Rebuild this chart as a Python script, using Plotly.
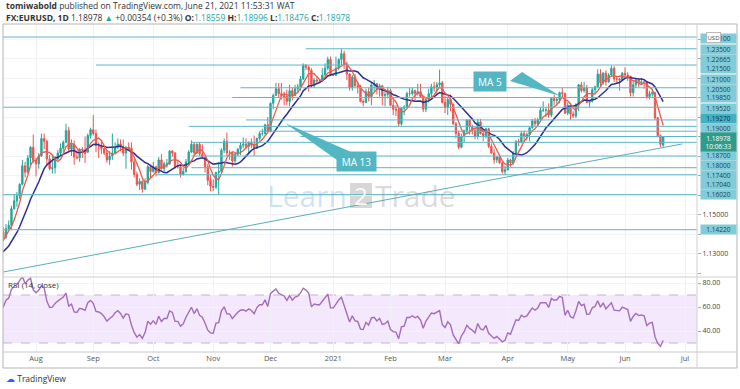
import numpy as np
import pandas as pd
import plotly.graph_objects as go

# ---------------- DATA ----------------
first_day = "2020-06-29"
last_day = "2021-06-21"
axis_last_day = "2021-07-09"

opens = [
    1.1220, 1.1240, 1.1233, 1.1250, 1.1240,  # Jun29-Jul3
    1.1245, 1.1310, 1.1275, 1.1330, 1.1290, 1.1300, 1.1345, 1.1400, 1.1410, 1.1383, 1.1428, 1.1445, 1.1530, 1.1570, 1.1595, 1.1655, 1.1750, 1.1717, 1.1790, 1.1845,  # Jul
    1.1778, 1.1760, 1.1800, 1.1890, 1.1875, 1.1785, 1.1735, 1.1740, 1.1785, 1.1815, 1.1840, 1.1870, 1.1930, 1.1835, 1.1860, 1.1795, 1.1790, 1.1835, 1.1830, 1.1820, 1.1905,  # Aug
    1.1935, 1.1915, 1.1855, 1.1850, 1.1838, 1.1815, 1.1780, 1.1800, 1.1815, 1.1845, 1.1862, 1.1845, 1.1815, 1.1845, 1.1840, 1.1770, 1.1705, 1.1655, 1.1670, 1.1630, 1.1665, 1.1745,  # Sep
    1.1720, 1.1745, 1.1715, 1.1780, 1.1735, 1.1760, 1.1760, 1.1825, 1.1815, 1.1745, 1.1745, 1.1705, 1.1720, 1.1770, 1.1820, 1.1860, 1.1815, 1.1860, 1.1810, 1.1795, 1.1745, 1.1675,  # Oct
    1.1645, 1.1640, 1.1715, 1.1720, 1.1830, 1.1875, 1.1815, 1.1815, 1.1775, 1.1810, 1.1835, 1.1855, 1.1860, 1.1850, 1.1870, 1.1860, 1.1840, 1.1890, 1.1915, 1.1915, 1.1960,  # Nov
    1.1925, 1.2070, 1.2110, 1.2145, 1.2120, 1.2110, 1.2105, 1.2080, 1.2135, 1.2110, 1.2145, 1.2155, 1.2195, 1.2265, 1.2255, 1.2240, 1.2160, 1.2190, 1.2185, 1.2185, 1.2215, 1.2250, 1.2295,  # Dec
    1.2215, 1.2215, 1.2250, 1.2295, 1.2325, 1.2270, 1.2220, 1.2150, 1.2205, 1.2160, 1.2155, 1.2080, 1.2075, 1.2130, 1.2105, 1.2165, 1.2170, 1.2140, 1.2160, 1.2110, 1.2115,  # Jan
    1.2135, 1.2060, 1.2040, 1.2035, 1.1965, 1.2045, 1.2050, 1.2120, 1.2120, 1.2135, 1.2120, 1.2130, 1.2105, 1.2040, 1.2090, 1.2120, 1.2155, 1.2150, 1.2165, 1.2175,  # Feb
    1.2075, 1.2050, 1.2090, 1.2065, 1.1965, 1.1915, 1.1845, 1.1900, 1.1930, 1.1985, 1.1950, 1.1930, 1.1900, 1.1975, 1.1915, 1.1905, 1.1940, 1.1850, 1.1815, 1.1780, 1.1795, 1.1765, 1.1720,  # Mar
    1.1730, 1.1780, 1.1765, 1.1815, 1.1875, 1.1870, 1.1915, 1.1900, 1.1910, 1.1945, 1.1980, 1.1965, 1.1985, 1.2035, 1.2035, 1.2035, 1.2010, 1.2095, 1.2085, 1.2090, 1.2125, 1.2120,  # Apr
    1.2020, 1.2060, 1.2015, 1.2005, 1.2065, 1.2165, 1.2135, 1.2150, 1.2075, 1.2080, 1.2140, 1.2155, 1.2220, 1.2175, 1.2225, 1.2180, 1.2215, 1.2250, 1.2195, 1.2195, 1.2190,  # May
    1.2225, 1.2215, 1.2210, 1.2125, 1.2165, 1.2190, 1.2175, 1.2180, 1.2175, 1.2105, 1.2120, 1.2125, 1.1995, 1.1905, 1.18559,  # Jun
]
highs = [
    1.1290, 1.1255, 1.1270, 1.1300, 1.1265,
    1.1345, 1.1330, 1.1345, 1.1370, 1.1315, 1.1375, 1.1410, 1.1450, 1.1435, 1.1450, 1.1470, 1.1545, 1.1600, 1.1615, 1.1660, 1.1780, 1.1770, 1.1805, 1.1850, 1.1910,
    1.1790, 1.1815, 1.1915, 1.1915, 1.1885, 1.1805, 1.1805, 1.1800, 1.1830, 1.1865, 1.1880, 1.1965, 1.1950, 1.1885, 1.1880, 1.1830, 1.1840, 1.1845, 1.1900, 1.1915, 1.1945,
    1.2011, 1.1935, 1.1870, 1.1880, 1.1845, 1.1830, 1.1825, 1.1915, 1.1870, 1.1890, 1.1885, 1.1885, 1.1850, 1.1870, 1.1870, 1.1785, 1.1720, 1.1685, 1.1675, 1.1685, 1.1755, 1.1755,
    1.1770, 1.1750, 1.1795, 1.1810, 1.1770, 1.1785, 1.1830, 1.1830, 1.1820, 1.1775, 1.1755, 1.1740, 1.1785, 1.1830, 1.1880, 1.1870, 1.1865, 1.1870, 1.1860, 1.1800, 1.1760, 1.1705,
    1.1680, 1.1720, 1.1770, 1.1840, 1.1890, 1.1920, 1.1830, 1.1820, 1.1815, 1.1840, 1.1870, 1.1895, 1.1890, 1.1875, 1.1890, 1.1905, 1.1895, 1.1925, 1.1940, 1.1965, 1.2000,
    1.2075, 1.2120, 1.2175, 1.2175, 1.2175, 1.2130, 1.2140, 1.2165, 1.2150, 1.2165, 1.2170, 1.2210, 1.2275, 1.2272, 1.2265, 1.2250, 1.2200, 1.2210, 1.2190, 1.2250, 1.2275, 1.2310, 1.2310,
    1.2220, 1.2310, 1.2300, 1.2349, 1.2340, 1.2285, 1.2225, 1.2215, 1.2220, 1.2180, 1.2165, 1.2090, 1.2145, 1.2150, 1.2175, 1.2190, 1.2175, 1.2170, 1.2165, 1.2140, 1.2155,
    1.2145, 1.2085, 1.2060, 1.2045, 1.2050, 1.2060, 1.2130, 1.2150, 1.2150, 1.2140, 1.2170, 1.2170, 1.2110, 1.2095, 1.2145, 1.2170, 1.2180, 1.2180, 1.2243, 1.2185,
    1.2110, 1.2100, 1.2115, 1.2070, 1.1975, 1.1930, 1.1915, 1.1935, 1.1990, 1.1990, 1.1960, 1.1950, 1.1990, 1.1990, 1.1935, 1.1945, 1.1945, 1.1865, 1.1835, 1.1800, 1.1800, 1.1770, 1.1750,
    1.1790, 1.1785, 1.1825, 1.1880, 1.1890, 1.1925, 1.1930, 1.1920, 1.1950, 1.1990, 1.1995, 1.1995, 1.2050, 1.2080, 1.2050, 1.2070, 1.2100, 1.2115, 1.2100, 1.2130, 1.2150, 1.2125,
    1.2075, 1.2065, 1.2030, 1.2070, 1.2170, 1.2180, 1.2180, 1.2165, 1.2085, 1.2150, 1.2160, 1.2245, 1.2245, 1.2230, 1.2240, 1.2225, 1.2265, 1.2260, 1.2210, 1.2200, 1.2230,
    1.2255, 1.2230, 1.2210, 1.2185, 1.2195, 1.2195, 1.2200, 1.2185, 1.2185, 1.2135, 1.2145, 1.2130, 1.2000, 1.1910, 1.18996,
]
lows = [
    1.1215, 1.1190, 1.1210, 1.1230, 1.1225,
    1.1240, 1.1265, 1.1260, 1.1280, 1.1255, 1.1290, 1.1325, 1.1395, 1.1370, 1.1375, 1.1420, 1.1425, 1.1525, 1.1540, 1.1580, 1.1650, 1.1690, 1.1710, 1.1755, 1.1765,
    1.1695, 1.1735, 1.1795, 1.1835, 1.1755, 1.1725, 1.1710, 1.1710, 1.1780, 1.1800, 1.1820, 1.1865, 1.1825, 1.1800, 1.1755, 1.1785, 1.1770, 1.1790, 1.1765, 1.1815, 1.1890,
    1.1905, 1.1820, 1.1790, 1.1810, 1.1805, 1.1765, 1.1755, 1.1780, 1.1815, 1.1835, 1.1825, 1.1800, 1.1735, 1.1825, 1.1730, 1.1690, 1.1645, 1.1625, 1.1612, 1.1625, 1.1655, 1.1685,
    1.1715, 1.1695, 1.1710, 1.1730, 1.1720, 1.1740, 1.1755, 1.1795, 1.1735, 1.1735, 1.1690, 1.1700, 1.1715, 1.1760, 1.1815, 1.1800, 1.1810, 1.1800, 1.1790, 1.1715, 1.1650, 1.1620,
    1.1620, 1.1630, 1.1603, 1.1715, 1.1815, 1.1800, 1.1780, 1.1745, 1.1765, 1.1800, 1.1805, 1.1840, 1.1835, 1.1810, 1.1840, 1.1800, 1.1835, 1.1880, 1.1905, 1.1910, 1.1925,
    1.1925, 1.2040, 1.2110, 1.2100, 1.2090, 1.2060, 1.2060, 1.2055, 1.2085, 1.2110, 1.2125, 1.2135, 1.2190, 1.2240, 1.2130, 1.2150, 1.2150, 1.2170, 1.2180, 1.2180, 1.2210, 1.2240, 1.2210,
    1.2210, 1.2210, 1.2240, 1.2265, 1.2245, 1.2190, 1.2135, 1.2135, 1.2155, 1.2120, 1.2075, 1.2055, 1.2070, 1.2080, 1.2060, 1.2130, 1.2115, 1.2105, 1.2060, 1.2055, 1.2095,
    1.2055, 1.2010, 1.2005, 1.1952, 1.1955, 1.2010, 1.2045, 1.2105, 1.2110, 1.2085, 1.2110, 1.2100, 1.2025, 1.2025, 1.2075, 1.2090, 1.2130, 1.2110, 1.2155, 1.2070,
    1.2020, 1.2010, 1.2030, 1.1960, 1.1890, 1.1835, 1.1840, 1.1870, 1.1915, 1.1910, 1.1910, 1.1885, 1.1885, 1.1910, 1.1875, 1.1890, 1.1840, 1.1810, 1.1760, 1.1765, 1.1760, 1.1710, 1.1704,
    1.1725, 1.1745, 1.1755, 1.1805, 1.1850, 1.1865, 1.1870, 1.1880, 1.1875, 1.1940, 1.1955, 1.1950, 1.1975, 1.2025, 1.2000, 1.1995, 1.2000, 1.2060, 1.2065, 1.2070, 1.2095, 1.2015,
    1.2010, 1.1985, 1.1995, 1.1995, 1.2030, 1.2125, 1.2125, 1.2070, 1.2050, 1.2075, 1.2115, 1.2150, 1.2155, 1.2165, 1.2160, 1.2175, 1.2210, 1.2180, 1.2175, 1.2135, 1.2185,
    1.2200, 1.2185, 1.2105, 1.2105, 1.2150, 1.2155, 1.2165, 1.2145, 1.2095, 1.2090, 1.2105, 1.1985, 1.1895, 1.1847, 1.18476,
]
closes = [
    1.1240, 1.1233, 1.1250, 1.1240, 1.1245,
    1.1310, 1.1275, 1.1330, 1.1290, 1.1300, 1.1345, 1.1400, 1.1410, 1.1383, 1.1428, 1.1445, 1.1530, 1.1570, 1.1595, 1.1655, 1.1750, 1.1717, 1.1790, 1.1845, 1.1778,
    1.1760, 1.1800, 1.1890, 1.1875, 1.1785, 1.1735, 1.1740, 1.1785, 1.1815, 1.1840, 1.1870, 1.1930, 1.1835, 1.1860, 1.1795, 1.1790, 1.1835, 1.1830, 1.1820, 1.1905, 1.1935,
    1.1915, 1.1855, 1.1850, 1.1838, 1.1815, 1.1780, 1.1800, 1.1815, 1.1845, 1.1862, 1.1845, 1.1815, 1.1845, 1.1840, 1.1770, 1.1705, 1.1655, 1.1670, 1.1630, 1.1665, 1.1745, 1.1720,
    1.1745, 1.1715, 1.1780, 1.1735, 1.1760, 1.1760, 1.1825, 1.1815, 1.1745, 1.1745, 1.1705, 1.1720, 1.1770, 1.1820, 1.1860, 1.1815, 1.1860, 1.1810, 1.1795, 1.1745, 1.1675, 1.1645,
    1.1640, 1.1715, 1.1720, 1.1830, 1.1875, 1.1815, 1.1815, 1.1775, 1.1810, 1.1835, 1.1855, 1.1860, 1.1850, 1.1870, 1.1860, 1.1840, 1.1890, 1.1915, 1.1915, 1.1960, 1.1925,
    1.2070, 1.2110, 1.2145, 1.2120, 1.2110, 1.2105, 1.2080, 1.2135, 1.2110, 1.2145, 1.2155, 1.2195, 1.2265, 1.2255, 1.2240, 1.2160, 1.2190, 1.2185, 1.2185, 1.2215, 1.2250, 1.2295, 1.2215,
    1.2215, 1.2250, 1.2295, 1.2325, 1.2270, 1.2220, 1.2150, 1.2205, 1.2160, 1.2155, 1.2080, 1.2075, 1.2130, 1.2105, 1.2165, 1.2170, 1.2140, 1.2160, 1.2110, 1.2115, 1.2135,
    1.2060, 1.2040, 1.2035, 1.1965, 1.2045, 1.2050, 1.2120, 1.2120, 1.2135, 1.2120, 1.2130, 1.2105, 1.2040, 1.2090, 1.2120, 1.2155, 1.2150, 1.2165, 1.2175, 1.2075,
    1.2050, 1.2090, 1.2065, 1.1965, 1.1915, 1.1845, 1.1900, 1.1930, 1.1985, 1.1950, 1.1930, 1.1900, 1.1975, 1.1915, 1.1905, 1.1940, 1.1850, 1.1815, 1.1780, 1.1795, 1.1765, 1.1720, 1.1730,
    1.1780, 1.1765, 1.1815, 1.1875, 1.1870, 1.1915, 1.1900, 1.1910, 1.1945, 1.1980, 1.1965, 1.1985, 1.2035, 1.2035, 1.2035, 1.2010, 1.2095, 1.2085, 1.2090, 1.2125, 1.2120, 1.2020,
    1.2060, 1.2015, 1.2005, 1.2065, 1.2165, 1.2135, 1.2150, 1.2075, 1.2080, 1.2140, 1.2155, 1.2220, 1.2175, 1.2225, 1.2180, 1.2215, 1.2250, 1.2195, 1.2195, 1.2190, 1.2225,
    1.2215, 1.2210, 1.2125, 1.2165, 1.2190, 1.2175, 1.2180, 1.2175, 1.2105, 1.2120, 1.2125, 1.1995, 1.1905, 1.1860, 1.18978,
]

month_tick_dates = ["2020-08-03", "2020-09-01", "2020-10-01", "2020-11-02", "2020-12-01", "2021-01-01",
                    "2021-02-01", "2021-03-01", "2021-04-01", "2021-05-03", "2021-06-01", "2021-07-01"]
month_labels = ["Aug", "Sep", "Oct", "Nov", "Dec", "2021", "Feb", "Mar", "Apr", "May", "Jun", "Jul"]

# horizontal support / resistance levels and the day each drawn line starts (None = whole width)
levels = [1.24100, 1.23500, 1.22665, 1.21500, 1.21000, 1.20500, 1.19850, 1.19520,
          1.19270, 1.19000, 1.18700, 1.18000, 1.17400, 1.17040, 1.16020, 1.14220]
level_starts = [None, "2020-12-18", "2020-09-02", "2020-11-16", "2020-11-11", None, "2020-11-18", "2020-10-20",
                "2020-11-25", "2020-12-16", "2020-10-21", "2020-10-21", "2020-10-21", "2020-10-02", None, None]
last_price = 1.18978
countdown = "10:06:33"

# rising trend line anchors (day, price)
trend_days = ["2020-07-16", "2021-06-30"]
trend_prices = [1.1205, 1.1862]

price_tick_vals = [1.12, 1.13, 1.14, 1.15, 1.16, 1.17, 1.18, 1.19, 1.20, 1.21, 1.22, 1.23, 1.24]
price_tick_shown = [1.13, 1.15]
rsi_tick_vals = [40, 60, 80]

# ---------------- DERIVED ----------------
dates = pd.bdate_range(first_day, last_day)
assert len(dates) == len(closes) == len(opens) == len(highs) == len(lows)
axis_dates = pd.bdate_range(first_day, axis_last_day)
pos = {d.strftime("%Y-%m-%d"): i for i, d in enumerate(axis_dates)}
idx = list(range(len(dates)))

cl = pd.Series(closes)
ma5 = cl.rolling(5).mean()
ma13 = cl.rolling(13).mean()
delta = cl.diff()
gain = delta.clip(lower=0).ewm(alpha=1 / 14, adjust=False).mean()
loss = (-delta.clip(upper=0)).ewm(alpha=1 / 14, adjust=False).mean()
rsi = 100 - 100 / (1 + gain / loss)

# ---------------- LAYOUT GEOMETRY (pixels) ----------------
W, H = 740, 389
LEFT, RIGHT, TOP, BOT = 3, 697, 24, 352
SEP = 277
XR = [12.9, 267.4]
PX_PER_UNIT = 1950.0
Y_AT_115 = 214.5
yr_main = [1.15 - (SEP - Y_AT_115) / PX_PER_UNIT, 1.15 + (Y_AT_115 - TOP) / PX_PER_UNIT]
rsi_range = [22.5, 85.0]
main_dom = [(BOT - SEP) / (BOT - TOP), 1.0]
rsi_dom = [0.0, (BOT - SEP) / (BOT - TOP)]


def fx(p):
    return (p - LEFT) / (RIGHT - LEFT)


def fy(p):
    return (BOT - p) / (BOT - TOP)


UP = "#26a69a"
DN = "#ef5350"
LINE = "#5fb6c6"
FONT = "Open Sans, Roboto, sans-serif"

fig = go.Figure()
fig.add_trace(go.Candlestick(
    x=idx, open=opens, high=highs, low=lows, close=closes,
    increasing=dict(line=dict(color=UP, width=1), fillcolor=UP),
    decreasing=dict(line=dict(color=DN, width=1), fillcolor=DN),
    whiskerwidth=0, showlegend=False, hoverinfo="skip", xaxis="x", yaxis="y"))
fig.add_trace(go.Scatter(x=idx, y=ma13, mode="lines", line=dict(color="#2f2f8f", width=1.5),
                         showlegend=False, hoverinfo="skip", xaxis="x", yaxis="y"))
fig.add_trace(go.Scatter(x=idx, y=ma5, mode="lines", line=dict(color="#ea5b4d", width=1.3),
                         showlegend=False, hoverinfo="skip", xaxis="x", yaxis="y"))
fig.add_trace(go.Scatter(x=idx, y=rsi, mode="lines", line=dict(color="#a56bbd", width=1.4),
                         showlegend=False, hoverinfo="skip", xaxis="x2", yaxis="y2"))

shapes = []
# RSI band
shapes.append(dict(type="rect", xref="x2 domain", yref="y2", x0=0, x1=1, y0=30, y1=70,
                   fillcolor="#f4e8fc", line=dict(width=0), layer="below"))
for v in (30, 70):
    shapes.append(dict(type="line", xref="x2 domain", yref="y2", x0=0, x1=1, y0=v, y1=v,
                       line=dict(color="#c6b2d6", width=1, dash="dash"), layer="below"))
# level lines
for lv, st in zip(levels, level_starts):
    x0 = XR[0] if st is None else pos[st]
    shapes.append(dict(type="line", xref="x", yref="y", x0=x0, x1=XR[1], y0=lv, y1=lv,
                       line=dict(color=LINE, width=1)))
# trend line
shapes.append(dict(type="line", xref="x", yref="y", x0=pos[trend_days[0]], x1=pos[trend_days[1]],
                   y0=trend_prices[0], y1=trend_prices[1], line=dict(color="#5aaeb9", width=1)))
# frames
frame = "#b4b4b4"
shapes.append(dict(type="rect", xref="paper", yref="paper", x0=0, x1=fx(737), y0=fy(368), y1=1,
                   line=dict(color=frame, width=1), fillcolor="rgba(0,0,0,0)"))
shapes.append(dict(type="line", xref="paper", yref="paper", x0=0, x1=fx(737), y0=fy(SEP), y1=fy(SEP),
                   line=dict(color="#d0d0d0", width=1)))
shapes.append(dict(type="line", xref="paper", yref="paper", x0=0, x1=fx(737), y0=0, y1=0,
                   line=dict(color="#c8c8c8", width=1)))
shapes.append(dict(type="line", xref="paper", yref="paper", x0=1, x1=1, y0=fy(368), y1=1,
                   line=dict(color="#d0d0d0", width=1)))

# callout tails
CALL = "#55b6c3"


def tri(a, b, c):
    return "M {} {} L {} {} L {} {} Z".format(fx(a[0]), fy(a[1]), fx(b[0]), fy(b[1]), fx(c[0]), fy(c[1]))


shapes.append(dict(type="path", xref="paper", yref="paper", path=tri((337, 160), (351, 152), (285, 123)),
                   fillcolor=CALL, line=dict(width=0)))
shapes.append(dict(type="path", xref="paper", yref="paper", path=tri((510, 81), (522, 72), (560, 96)),
                   fillcolor=CALL, line=dict(width=0)))
# watermark "2" box
shapes.append(dict(type="rect", xref="paper", yref="paper", x0=fx(350), x1=fx(372), y0=fy(208), y1=fy(183),
                   fillcolor="rgba(110,110,110,0.28)", line=dict(width=0), layer="below"))

ann = []
# header
ann.append(dict(xref="paper", yref="paper", x=fx(4), y=fy(6), xanchor="left", yanchor="middle", showarrow=False,
                text="<b>tomiwabold</b> published on TradingView.com, June 21, 2021 11:53:31 WAT",
                font=dict(family=FONT, size=8.5, color="#333")))
g = "#26a69a"
ann.append(dict(xref="paper", yref="paper", x=fx(4), y=fy(17), xanchor="left", yanchor="middle", showarrow=False,
                text=("<b>FX:EURUSD, 1D</b> 1.18978 <span style='color:%s'>▲</span> +0.00354 (+0.3%%) "
                      "<b>O:</b><span style='color:%s'>1.18559</span> <b>H:</b><span style='color:%s'>1.18996</span> "
                      "<b>L:</b><span style='color:%s'>1.18476</span> <b>C:</b><span style='color:%s'>1.18978</span>")
                % (g, g, g, g, g),
                font=dict(family=FONT, size=8.5, color="#333")))
# price-scale labels for levels (pushed apart like the original scale)
label_shift_px = [-1, -1, 6, 19, 18.5, 18, 22, 18, 13, 8.5, -13.5, -9, -7.3, -9.3, 0, 0]
for lv, sh in zip(levels, label_shift_px):
    hl = abs(lv - 1.1927) < 1e-6
    ann.append(dict(xref="paper", yref="y", x=1, y=lv, xanchor="left", yanchor="middle", xshift=3, yshift=sh,
                    showarrow=False, text="%.5f" % lv, width=34, height=8, borderpad=0.5,
                    bgcolor="#44b0c4" if hl else "#82cbd8",
                    font=dict(family=FONT, size=6.5, color="#0f3038" if hl else "#21434b")))
ann.append(dict(xref="paper", yref="y", x=1, y=last_price, xanchor="left", yanchor="top", xshift=3, yshift=5,
                showarrow=False, text="%.5f<br>%s" % (last_price, countdown), width=34, borderpad=0.5,
                bgcolor="#2e9c8a", font=dict(family=FONT, size=6.5, color="white")))
ann.append(dict(xref="paper", yref="paper", x=fx(721), y=fy(32), showarrow=False, text="USD",
                bgcolor="white", bordercolor="#bbbbbb", borderwidth=1, borderpad=0.5,
                font=dict(family=FONT, size=6, color="#444")))
# callout boxes with text
ann.append(dict(xref="paper", yref="paper", x=fx(356.5), y=fy(161.5), showarrow=False, text="MA 13",
                bgcolor=CALL, width=39, height=19, borderpad=0,
                font=dict(family=FONT, size=10, color="white")))
ann.append(dict(xref="paper", yref="paper", x=fx(506.5), y=fy(71.5), showarrow=False, text="MA 5",
                bgcolor=CALL, width=32, height=19, borderpad=0,
                font=dict(family=FONT, size=10, color="white")))
# watermark
ann.append(dict(xref="paper", yref="paper", x=fx(349), y=fy(195), xanchor="right", yanchor="middle",
                showarrow=False, text="Learn", font=dict(family=FONT, size=30, color="rgba(120,175,215,0.35)")))
ann.append(dict(xref="paper", yref="paper", x=fx(361), y=fy(195), showarrow=False, text="2",
                font=dict(family=FONT, size=24, color="rgba(255,255,255,0.9)")))
ann.append(dict(xref="paper", yref="paper", x=fx(373), y=fy(195), xanchor="left", yanchor="middle",
                showarrow=False, text="Trade", font=dict(family=FONT, size=30, color="rgba(140,140,140,0.32)")))
# RSI title
ann.append(dict(xref="paper", yref="paper", x=fx(6), y=fy(284), xanchor="left", yanchor="middle", showarrow=False,
                text="RSI (14, close)", font=dict(family=FONT, size=8, color="#333")))
# footer logo
ann.append(dict(xref="paper", yref="paper", x=fx(4), y=fy(378), xanchor="left", yanchor="middle", showarrow=False,
                text="<span style='color:#2962ff'>☁</span> TradingView",
                font=dict(family=FONT, size=8.5, color="#333")))

month_pos = [pos[d] for d in month_tick_dates]
fig.update_layout(
    width=W, height=H, margin=dict(l=LEFT, r=W - RIGHT, t=TOP, b=H - BOT, autoexpand=False),
    paper_bgcolor="white", plot_bgcolor="white", showlegend=False, hovermode=False,
    font=dict(family=FONT, size=7.5, color="#444"),
    xaxis=dict(domain=[0, 1], anchor="y", range=XR, tickvals=month_pos, showticklabels=False,
               showgrid=True, gridcolor="#eef1f5", zeroline=False, rangeslider=dict(visible=False),
               showline=False, ticks="", automargin=False),
    yaxis=dict(domain=main_dom, anchor="x", side="right", range=yr_main, tickvals=price_tick_vals,
               ticktext=["%.5f" % v if v in price_tick_shown else "" for v in price_tick_vals],
               showgrid=True, gridcolor="#f1f3f6", zeroline=False, ticks="outside", ticklen=3,
               tickcolor="#aaaaaa", tickfont=dict(size=7, color="#444"), showline=False, automargin=False),
    xaxis2=dict(domain=[0, 1], anchor="y2", matches="x", range=XR, tickvals=month_pos, ticktext=month_labels,
                showgrid=True, gridcolor="#eef1f5", zeroline=False, ticks="", showline=False,
                tickfont=dict(size=7.5, color="#555"), automargin=False),
    yaxis2=dict(domain=rsi_dom, anchor="x2", side="right", range=rsi_range, tickvals=rsi_tick_vals,
                ticktext=["%.2f" % v for v in rsi_tick_vals], showgrid=True, gridcolor="#f1f3f6",
                zeroline=False, ticks="outside", ticklen=3, tickcolor="#aaaaaa",
                tickfont=dict(size=7, color="#444"), showline=False, automargin=False),
    shapes=shapes, annotations=ann,
)

fig.write_html("out.html", config={"displayModeBar": False},
               post_script="document.body.style.margin='0';document.body.style.padding='0';")
